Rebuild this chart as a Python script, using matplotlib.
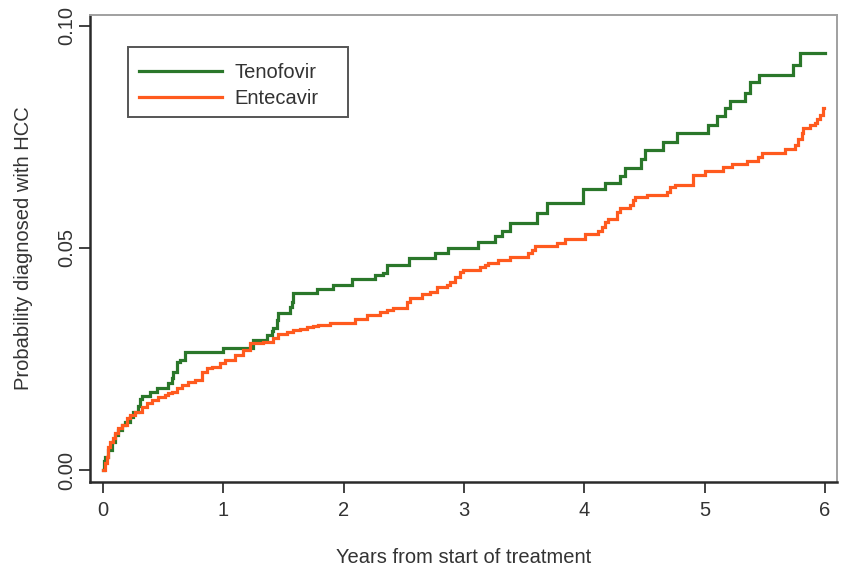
import matplotlib
matplotlib.use("Agg")
import matplotlib.pyplot as plt
from matplotlib.patches import Rectangle

# Cumulative probability of HCC diagnosis (step curves), years from start of treatment
tenofovir_t = [0, 0.005, 0.017, 0.044, 0.072, 0.10, 0.127, 0.155, 0.183, 0.224, 0.252,
               0.293, 0.308, 0.322, 0.391, 0.446, 0.543, 0.571, 0.584, 0.613, 0.640,
               0.682, 0.998, 1.247, 1.363, 1.405, 1.413, 1.444, 1.455, 1.554, 1.569,
               1.579, 1.776, 1.912, 2.067, 2.261, 2.328, 2.358, 2.54, 2.760, 2.868,
               3.117, 3.259, 3.314, 3.383, 3.605, 3.688, 3.993, 4.173, 4.298, 4.339,
               4.472, 4.505, 4.658, 4.769, 5.032, 5.101, 5.170, 5.212, 5.337, 5.378,
               5.455, 5.733, 5.794, 6.0]
tenofovir_p = [0, 0.0020, 0.0030, 0.0045, 0.0064, 0.0079, 0.0090, 0.0101, 0.0109,
               0.0120, 0.0131, 0.0143, 0.0160, 0.0167, 0.0176, 0.0184, 0.0195, 0.0206,
               0.0221, 0.0244, 0.0248, 0.0266, 0.0275, 0.0292, 0.0304, 0.0312, 0.0320,
               0.0338, 0.0353, 0.0367, 0.0379, 0.0398, 0.0407, 0.0416, 0.0429, 0.0439,
               0.0444, 0.0461, 0.0477, 0.0488, 0.0500, 0.0514, 0.0527, 0.0538, 0.0556,
               0.0578, 0.0601, 0.0632, 0.0647, 0.0662, 0.0679, 0.0701, 0.0720, 0.0739,
               0.0758, 0.0777, 0.0797, 0.0814, 0.0831, 0.0849, 0.0874, 0.0890, 0.0911,
               0.0938, 0.0938]

entecavir_t = [0, 0.017, 0.031, 0.044, 0.058, 0.086, 0.100, 0.127, 0.155, 0.197, 0.224,
               0.266, 0.322, 0.363, 0.405, 0.460, 0.515, 0.543, 0.571, 0.613, 0.654,
               0.709, 0.765, 0.820, 0.862, 0.904, 0.973, 1.014, 1.097, 1.166, 1.222,
               1.333, 1.416, 1.457, 1.527, 1.582, 1.638, 1.693, 1.748, 1.790, 1.887,
               1.970, 2.095, 2.192, 2.303, 2.358, 2.413, 2.525, 2.552, 2.649, 2.718,
               2.774, 2.857, 2.884, 2.926, 2.968, 2.995, 3.134, 3.175, 3.203, 3.286,
               3.383, 3.535, 3.563, 3.591, 3.771, 3.840, 4.006, 4.117, 4.145, 4.173,
               4.200, 4.270, 4.298, 4.381, 4.408, 4.422, 4.519, 4.686, 4.713, 4.755,
               4.907, 5.00, 5.156, 5.226, 5.351, 5.447, 5.475, 5.669, 5.752, 5.779,
               5.808, 5.821, 5.877, 5.918, 5.932, 5.960, 5.988, 5.995]
entecavir_p = [0, 0.0015, 0.0030, 0.0052, 0.0064, 0.0071, 0.0083, 0.0094, 0.0101,
               0.0116, 0.0124, 0.0131, 0.0142, 0.0150, 0.0158, 0.0165, 0.0169, 0.0173,
               0.0176, 0.0184, 0.0191, 0.0199, 0.0203, 0.0221, 0.0229, 0.0232, 0.0240,
               0.0248, 0.0259, 0.0270, 0.0285, 0.0289, 0.0296, 0.0307, 0.0311, 0.0315,
               0.0317, 0.0321, 0.0324, 0.0326, 0.0330, 0.0331, 0.0339, 0.0349, 0.0356,
               0.0360, 0.0364, 0.0379, 0.0388, 0.0396, 0.0401, 0.0411, 0.0416, 0.0424,
               0.0435, 0.0446, 0.0450, 0.0457, 0.0461, 0.0466, 0.0473, 0.0479, 0.0488,
               0.0495, 0.0504, 0.0511, 0.0520, 0.0531, 0.0539, 0.0547, 0.0559, 0.0566,
               0.0581, 0.0589, 0.0596, 0.0608, 0.0614, 0.0619, 0.0626, 0.0636, 0.0641,
               0.0664, 0.0672, 0.0683, 0.0689, 0.0696, 0.0705, 0.0713, 0.0722, 0.0731,
               0.0746, 0.0758, 0.0769, 0.0776, 0.0782, 0.0789, 0.0799, 0.0814, 0.0814]

x_ticks = [0, 1, 2, 3, 4, 5, 6]
y_ticks = [0.00, 0.05, 0.10]
y_tick_labels = ["0.00", "0.05", "0.10"]
series_names = ["Tenofovir", "Entecavir"]
x_title = "Years from start of treatment"
y_title = "Probability diagnosed with HCC"

GREEN = "#2a772a"
ORANGE = "#ff5a1e"
TEXT = "#333333"

plt.rcParams["font.family"] = ["Liberation Sans", "DejaVu Sans"]
plt.rcParams["font.size"] = 14.5

fig = plt.figure(figsize=(8.42, 5.68), dpi=100)
W, H = 842, 568
left, right, top, bottom = 90, 837, 15, 482
ax = fig.add_axes([left / W, 1 - bottom / H, (right - left) / W, (bottom - top) / H])

l1, = ax.step(tenofovir_t, tenofovir_p, where="post", color=GREEN, lw=2.3,
              solid_joinstyle="miter", label=series_names[0])
l2, = ax.step(entecavir_t, entecavir_p, where="post", color=ORANGE, lw=2.3,
              solid_joinstyle="miter", label=series_names[1])

ax.set_xlim(-0.108, 6.101)
ax.set_ylim(-0.0027, 0.1024)

ax.set_xticks(x_ticks)
ax.set_xticklabels([str(v) for v in x_ticks])
ax.set_yticks(y_ticks)
ax.set_yticklabels(y_tick_labels)
for lab in ax.get_yticklabels():
    lab.set_rotation(90)
    lab.set_va("center")

ax.tick_params(axis="both", direction="out", length=8, width=1.3, colors="#333333",
               labelcolor=TEXT, labelsize=14.5)
ax.tick_params(axis="x", pad=6)
ax.tick_params(axis="y", pad=2)

for side in ("left", "bottom"):
    ax.spines[side].set_color("#2a2a2a")
    ax.spines[side].set_linewidth(1.8)
for side in ("top", "right"):
    ax.spines[side].set_color("#a0a0a0")
    ax.spines[side].set_linewidth(1.4)

ax.set_xlabel(x_title, color=TEXT, labelpad=20)
ax.set_ylabel(y_title, color=TEXT, labelpad=17)

# legend with a square frame
leg = ax.legend(handles=[l1, l2], loc="upper left",
                bbox_to_anchor=((128 - left) / (right - left), (bottom - 52) / (bottom - top)),
                frameon=False, borderaxespad=0, borderpad=0.55, handlelength=4.1,
                handletextpad=0.65, labelspacing=0.35, fontsize=14.5)
for t in leg.get_texts():
    t.set_color(TEXT)
ax.add_patch(Rectangle(((128 - left) / (right - left), (bottom - 117) / (bottom - top)),
                       (348 - 128) / (right - left), (117 - 47) / (bottom - top),
                       transform=ax.transAxes, fill=False, edgecolor="#555555",
                       lw=1.4, zorder=5, clip_on=False))

fig.savefig("out.png", dpi=100, facecolor="white")
